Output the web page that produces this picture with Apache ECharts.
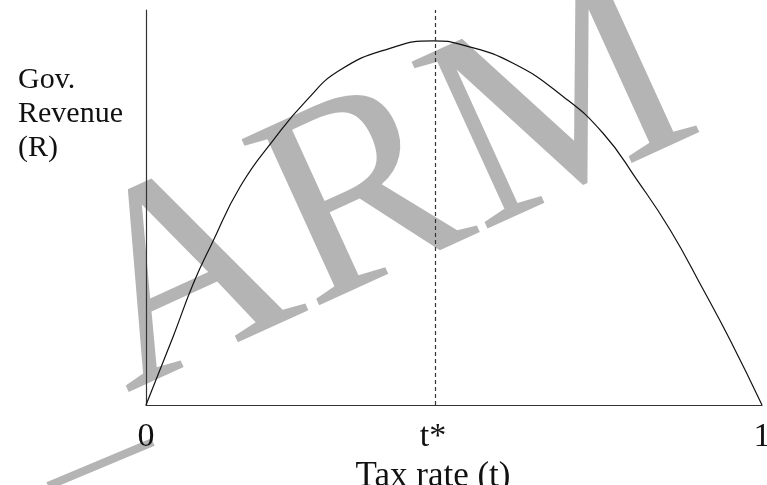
<!DOCTYPE html>
<html>
<head>
<meta charset="utf-8">
<script src="https://cdn.jsdelivr.net/npm/echarts@6/dist/echarts.min.js"></script>
<style>
  html, body { margin: 0; padding: 0; background: #fff; }
  #chart-container { width: 767px; height: 485px; }
</style>
</head>
<body>
<div id="chart-container"></div>
<script>
var dom = document.getElementById('chart-container');
var myChart = echarts.init(dom, null, { renderer: 'canvas' });

// Laffer curve: tax rate t (0..1) vs revenue R (0..1)
var taxRate = [0, 0.044, 0.077, 0.107, 0.153, 0.207, 0.261, 0.315, 0.396, 0.466,
               0.515, 0.596, 0.677, 0.742, 0.797, 0.851, 0.905, 0.948, 1];
var revenue = [0, 0.173, 0.308, 0.409, 0.553, 0.671, 0.772, 0.848, 0.903, 0.922,
               0.911, 0.865, 0.781, 0.688, 0.570, 0.443, 0.291, 0.165, 0];
var tStar = 0.466;
var tickValues = [0, tStar, 1];
var tickNames = ['0', 't*', '1'];

var serif = '"Liberation Serif", "DejaVu Serif", serif';
var ink = '#111';
var grey = '#b4b4b4';

var curve = taxRate.map(function (t, i) { return [t, revenue[i]]; });

var option = {
    animation: false,
    backgroundColor: '#fff',
    grid: { left: 146, right: 5, top: 10, bottom: 80, outerBoundsMode: 'none', containLabel: false },
    xAxis: {
        type: 'value',
        min: 0,
        max: 1,
        splitLine: { show: false },
        axisTick: { show: false },
        axisLine: { lineStyle: { color: '#333', width: 1.2 } },
        axisLabel: {
            customValues: tickValues,
            margin: 15,
            fontFamily: serif,
            fontSize: 34,
            color: ink,
            hideOverlap: false,
            formatter: function (v) {
                var i = tickValues.indexOf(v);
                return i >= 0 ? tickNames[i] : '';
            }
        },
        name: 'Tax rate (t)',
        nameLocation: 'middle',
        nameGap: 41,
        nameTextStyle: {
            fontFamily: serif,
            fontSize: 35,
            color: ink,
            verticalAlign: 'top',
            padding: [0, 42, 0, 0]
        }
    },
    yAxis: {
        type: 'value',
        min: 0,
        max: 1,
        splitLine: { show: false },
        axisTick: { show: false },
        axisLabel: { show: false },
        axisLine: { show: true, lineStyle: { color: '#333', width: 1.2 } }
    },
    graphic: [
        {
            type: 'text',
            z: -10,
            x: 386,
            y: 194,
            rotation: 24.5 * Math.PI / 180,
            silent: true,
            style: {
                text: 'ARM',
                font: '280px ' + serif,
                fill: grey,
                align: 'center',
                verticalAlign: 'middle'
            }
        },
        {
            type: 'line',
            z: -10,
            silent: true,
            shape: { x1: 48, y1: 486, x2: 153, y2: 442 },
            style: { stroke: grey, lineWidth: 8 }
        },
        {
            type: 'text',
            x: 18,
            y: 63,
            silent: true,
            style: {
                text: 'Gov.\nRevenue\n(R)',
                font: '30px ' + serif,
                lineHeight: 34,
                fill: ink,
                align: 'left',
                verticalAlign: 'top'
            }
        }
    ],
    series: [
        {
            type: 'line',
            data: curve,
            smooth: 0.5,
            showSymbol: false,
            lineStyle: { color: ink, width: 1.2 },
            markLine: {
                silent: true,
                symbol: 'none',
                label: { show: false },
                lineStyle: { color: '#333', type: [4, 3], width: 1.2 },
                data: [{ xAxis: tStar }]
            }
        }
    ]
};

myChart.setOption(option);
window.addEventListener('resize', myChart.resize);
</script>
</body>
</html>
